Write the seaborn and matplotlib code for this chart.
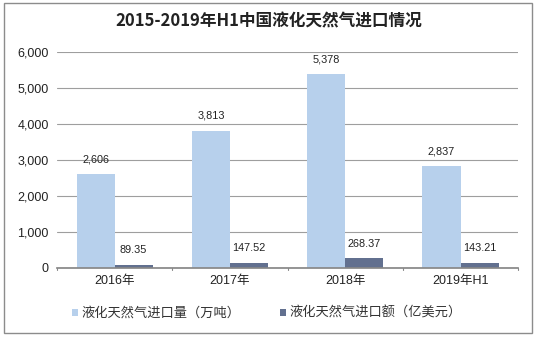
import matplotlib
matplotlib.use("Agg")
import matplotlib.pyplot as plt
from matplotlib.patches import Rectangle
import seaborn as sns
import pandas as pd

categories = ["2016年", "2017年", "2018年", "2019年H1"]
volume = [2606, 3813, 5378, 2837]          # 万吨
value = [89.35, 147.52, 268.37, 143.21]    # 亿美元
series_names = ["液化天然气进口量（万吨）", "液化天然气进口额（亿美元）"]
volume_labels = ["2,606", "3,813", "5,378", "2,837"]
value_labels = ["89.35", "147.52", "268.37", "143.21"]
yticks = [0, 1000, 2000, 3000, 4000, 5000, 6000]

sns.set_theme(style="white")
plt.rcParams["font.family"] = ["Liberation Sans", "Noto Sans CJK SC", "DejaVu Sans"]

df = pd.DataFrame({
    "year": categories * 2,
    "amount": volume + value,
    "series": [series_names[0]] * 4 + [series_names[1]] * 4,
})
colors = ["#B7D0EC", "#62708F"]

fig = plt.figure(figsize=(5.37, 3.37), dpi=100)
ax = fig.add_axes([0.106, 0.205, 0.859, 0.641])
sns.barplot(data=df, x="year", y="amount", hue="series", palette=colors,
            width=0.66, saturation=1, ax=ax, legend=True, linewidth=0)

ax.set_ylim(0, 6000)
ax.set_xlim(-0.5, 3.5)
ax.set_yticks(yticks)
ax.set_yticklabels([f"{t:,}" for t in yticks], fontsize=9, color="#222222")
ax.set_xlabel("")
ax.set_ylabel("")
for lab in ax.get_xticklabels():
    lab.set_fontsize(9)
    lab.set_color("#222222")
ax.yaxis.grid(True, color="#9E9E9E", linewidth=0.8)
ax.set_axisbelow(True)
for s in ["top", "right", "left"]:
    ax.spines[s].set_visible(False)
ax.spines["bottom"].set_color("#888888")
ax.tick_params(axis="y", length=0, pad=6)
ax.tick_params(axis="x", length=0, pad=5)
# category separators on the baseline
for xb in [-0.5, 0.5, 1.5, 2.5, 3.5]:
    ax.plot([xb, xb], [0, -70], color="#888888", linewidth=0.8, clip_on=False)

labels_all = [volume_labels, value_labels]
for container, labs in zip(ax.containers, labels_all):
    ax.bar_label(container, labels=labs, padding=7, fontsize=7.8, color="#222222")

leg = ax.legend(loc="upper center", bbox_to_anchor=(0.455, -0.125), ncol=2,
                frameon=False, fontsize=9.5, handlelength=0.45, handleheight=0.45,
                handletextpad=0.25, columnspacing=3.0)
for t in leg.get_texts():
    t.set_color("#333333")

fig.text(0.5, 0.935, "2015-2019年H1中国液化天然气进口情况", ha="center", va="center",
         fontsize=12, fontweight="bold", color="#222222",
         family=["Noto Sans CJK SC", "DejaVu Sans"])

fig.patches.append(Rectangle((0.008, 0.012), 0.983, 0.978, transform=fig.transFigure,
                             fill=False, edgecolor="#8C8C8C", linewidth=1.0))

fig.savefig("out.png", dpi=100)
